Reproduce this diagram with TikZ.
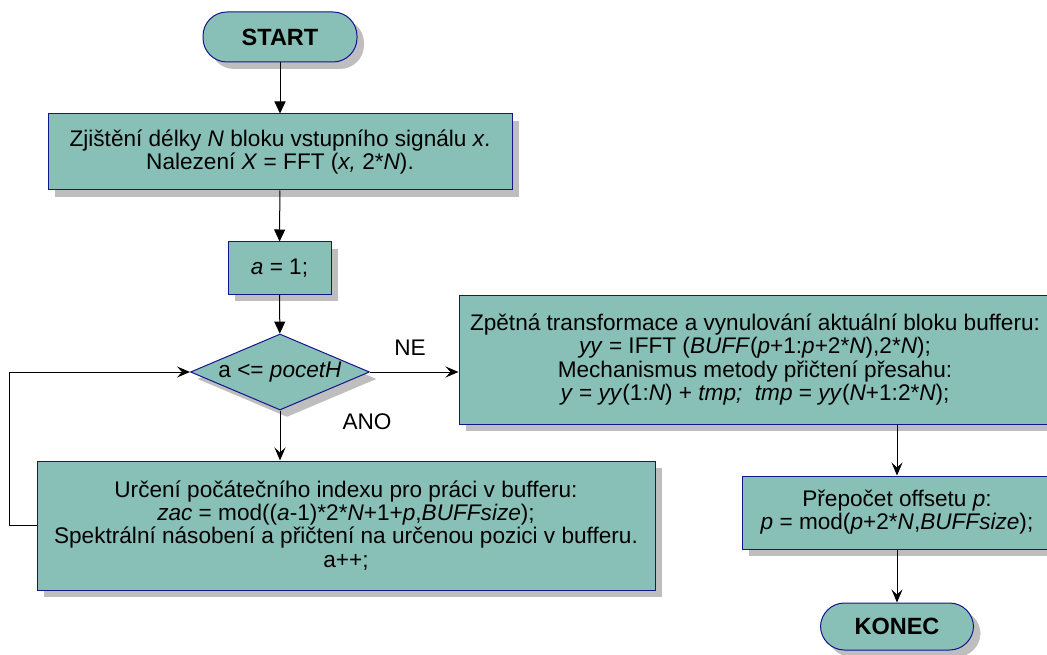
\documentclass[tikz,border=0pt]{standalone}
\usepackage{fontspec}
\setmainfont{Liberation Sans}
\usetikzlibrary{arrows.meta,shapes.geometric,shadows}
\definecolor{boxfill}{RGB}{136,192,184}
\definecolor{boxline}{RGB}{20,20,140}
\definecolor{shade}{RGB}{190,190,190}
\begin{document}
\begin{tikzpicture}[x=1pt,y=-1pt,
  font=\fontsize{22.6}{23.2}\selectfont,
  base/.style={draw=boxline, line width=1pt, fill=boxfill, align=center, inner sep=0pt,
    drop shadow={shadow xshift=7pt, shadow yshift=-7pt, fill=shade, opacity=1}},
  procbox/.style={base, rectangle},
  termbox/.style={base, rectangle, rounded corners=24pt, font=\fontsize{23.5}{24}\selectfont\bfseries},
  decbox/.style={base, diamond, aspect=2.36},
  flow/.style={draw=black, line width=1pt, -{Triangle[length=12pt,width=11pt]}},
  flowb/.style={draw=black, line width=1pt, -{Stealth[length=13pt,width=11pt,inset=5pt]}},
  lbl/.style={inner sep=0pt}]
\useasboundingbox (0,0) rectangle (1047,655);

\node[termbox, minimum width=154, minimum height=50] (start) at (280,37) {START};
\node[procbox, minimum width=464, minimum height=76] (b1) at (280,152)
  {Zjištění délky \textit{N} bloku vstupního signálu \textit{x}.\\
   Nalezení \textit{X} = FFT (\textit{x,} 2*\textit{N}).};
\node[procbox, minimum width=103, minimum height=52] (a1) at (279.5,268) {\textit{a} = 1;};
\node[decbox, minimum width=179, minimum height=76] (dec) at (280,372) {a <= \textit{pocetH}};
\node[procbox, minimum width=618, minimum height=129] (lbox) at (346,525.5)
  {Určení počátečního indexu pro práci v bufferu:\\
   \textit{zac} = mod((\textit{a}-1)*2*\textit{N}+1+\textit{p},\textit{BUFFsize});\\
   Spektrální násobení a přičtení na určenou pozici v bufferu.\\
   a++;};
\node[procbox, minimum width=592, minimum height=129] (rbox) at (755,359.5)
  {Zpětná transformace a vynulování aktuální bloku bufferu:\\
   \textit{yy} = IFFT (\textit{BUFF}(\textit{p}+1:\textit{p}+2*\textit{N}),2*\textit{N});\\
   Mechanismus metody přičtení přesahu:\\
   \textit{y} = \textit{yy}(1:\textit{N}) + \textit{tmp;}\ \ \textit{tmp} = \textit{yy}(\textit{N}+1:2*\textit{N});};
\node[procbox, minimum width=310, minimum height=73] (prep) at (897,512.5)
  {Přepočet offsetu \textit{p}:\\
   \textit{p} = mod(\textit{p}+2*\textit{N},\textit{BUFFsize});};
\node[termbox, minimum width=153, minimum height=47] (konec) at (897,626.5) {KONEC};

\node[lbl] (ne) at (410,348) {NE};
\node[lbl] (ano) at (367,422) {ANO};

\draw[flow] (start) -- (b1);
\draw[flow] (b1) -- (a1);
\draw[flow] (a1) -- (dec);
\draw[flowb] (dec.south) -- (dec.south |- lbox.north);
\draw[flowb] (dec.east) -- (dec.east -| rbox.west);
\draw[flowb] (lbox.west) -- ++(-27,0) |- (dec.west);
\draw[flowb] (prep.north |- rbox.south) -- (prep.north);
\draw[flowb] (prep.south) -- (konec.north);
\end{tikzpicture}
\end{document}
